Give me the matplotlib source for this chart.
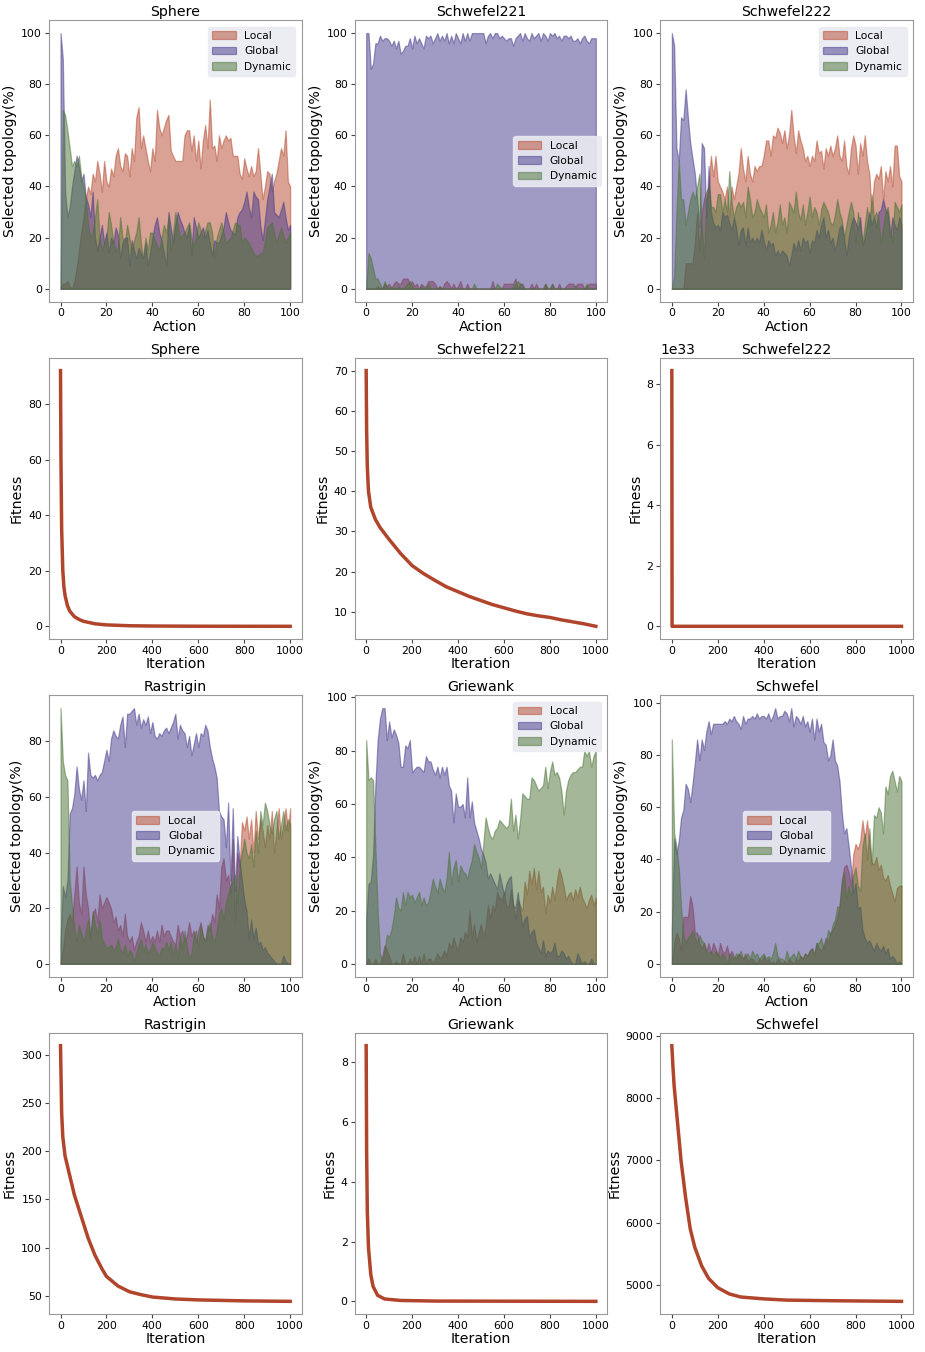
import numpy as np
import matplotlib.pyplot as plt

actions = np.arange(101)

# ---- topology selection (%) per action ----
sphere_local = [0, 2, 2, 3, 1, 0, 3, 8, 15, 22, 28, 35, 40, 37, 45, 42, 50, 45, 38, 50,
                42, 40, 47, 44, 52, 55, 48, 46, 53, 52, 44, 55, 50, 67, 71, 55, 60, 55, 50, 46,
                55, 50, 70, 63, 60, 63, 66, 68, 54, 52, 50, 50, 50, 50, 60, 62, 62, 54, 60, 50,
                58, 47, 58, 64, 55, 74, 55, 56, 50, 60, 55, 58, 60, 58, 59, 52, 52, 52, 45, 43,
                51, 47, 44, 48, 44, 46, 55, 45, 35, 40, 46, 45, 38, 42, 45, 50, 55, 52, 62, 42, 40]
sphere_global = [100, 90, 38, 28, 32, 40, 46, 52, 48, 42, 45, 36, 33, 28, 38, 20, 15, 20, 25, 18,
                 22, 14, 20, 18, 24, 21, 12, 18, 20, 20, 9, 19, 15, 12, 16, 14, 12, 18, 9, 14,
                 20, 25, 28, 22, 19, 14, 9, 30, 24, 18, 25, 30, 27, 25, 22, 20, 25, 13, 28, 24,
                 20, 22, 24, 20, 23, 18, 13, 19, 18, 18, 21, 24, 30, 26, 23, 22, 21, 28, 30, 31,
                 34, 38, 32, 28, 38, 36, 35, 25, 19, 27, 35, 40, 45, 30, 29, 28, 31, 34, 28, 23, 25]
sphere_dynamic = [0, 70, 68, 62, 55, 48, 50, 48, 52, 44, 40, 35, 25, 20, 22, 28, 35, 20, 15, 18,
                  20, 30, 25, 18, 15, 16, 28, 20, 18, 25, 20, 15, 19, 22, 28, 18, 12, 20, 15, 22,
                  22, 19, 17, 15, 20, 25, 22, 28, 15, 22, 30, 25, 20, 21, 22, 24, 26, 20, 16, 21,
                  26, 23, 20, 23, 26, 26, 22, 12, 20, 23, 26, 22, 18, 19, 20, 23, 26, 25, 25, 18,
                  20, 19, 18, 16, 14, 13, 13, 14, 14, 19, 24, 25, 26, 22, 18, 21, 24, 21, 18, 20, 22]

s221_local = [0, 0, 0, 0, 0, 1, 0, 0, 2, 1, 2, 0, 2, 3, 2, 2, 4, 4, 4, 2,
              3, 1, 2, 0, 2, 1, 1, 3, 3, 3, 2, 0, 1, 0, 2, 3, 2, 0, 2, 0,
              1, 3, 0, 0, 2, 0, 0, 0, 0, 0, 0, 0, 0, 0, 0, 3, 0, 0, 0, 0,
              2, 2, 2, 2, 2, 4, 0, 2, 2, 0, 0, 0, 2, 0, 2, 0, 0, 0, 2, 0,
              0, 2, 0, 0, 2, 0, 0, 1, 2, 2, 2, 1, 2, 2, 2, 0, 1, 2, 2, 2, 2]
s221_global = [100, 100, 86, 88, 96, 96, 99, 97, 98, 98, 97, 95, 97, 94, 97, 92, 93, 95, 95, 98,
               94, 99, 96, 98, 96, 94, 99, 98, 99, 96, 98, 100, 97, 99, 97, 100, 96, 99, 96, 100,
               98, 96, 100, 97, 100, 97, 100, 100, 100, 100, 100, 100, 96, 99, 100, 98, 100, 100, 98, 99,
               98, 97, 98, 98, 95, 98, 99, 100, 97, 100, 98, 97, 100, 98, 99, 100, 97, 100, 99, 97,
               100, 99, 100, 98, 99, 97, 99, 99, 98, 99, 97, 97, 98, 96, 98, 99, 97, 96, 98, 98, 98]
s221_dynamic = [0, 14, 12, 8, 4, 4, 2, 0, 3, 1, 0, 1, 0, 0, 1, 0, 0, 1, 2, 3,
                1, 0, 0, 0, 1, 0, 0, 2, 0, 0, 0, 0, 1, 0, 0, 0, 0, 0, 0, 0,
                0, 0, 0, 0, 0, 0, 0, 2, 0, 0, 0, 0, 0, 0, 0, 0, 0, 2, 1, 0,
                0, 0, 0, 0, 1, 2, 3, 2, 1, 0, 0, 0, 0, 0, 0, 0, 0, 0, 2, 0,
                0, 2, 0, 0, 0, 0, 0, 0, 0, 0, 0, 1, 0, 0, 0, 0, 2, 0, 0, 0, 0]

s222_local = [0, 0, 0, 0, 0, 0, 10, 10, 10, 10, 18, 30, 15, 30, 35, 38, 40, 52, 44, 52,
              42, 40, 38, 35, 40, 28, 40, 35, 40, 45, 55, 47, 42, 52, 45, 42, 48, 46, 48, 48,
              52, 58, 58, 52, 60, 59, 63, 61, 57, 62, 55, 60, 70, 60, 53, 62, 58, 55, 50, 52,
              48, 52, 50, 58, 53, 54, 47, 55, 52, 56, 52, 55, 60, 52, 50, 58, 48, 45, 55, 60,
              56, 45, 57, 52, 60, 50, 45, 30, 42, 45, 43, 48, 35, 46, 42, 48, 40, 56, 56, 44, 42]
s222_global = [100, 95, 55, 50, 67, 66, 78, 67, 57, 51, 45, 35, 24, 57, 55, 28, 48, 30, 26, 24,
               25, 23, 30, 28, 29, 26, 23, 28, 24, 17, 23, 24, 17, 24, 18, 20, 18, 20, 18, 23,
               19, 15, 19, 17, 18, 13, 15, 13, 15, 14, 13, 9, 13, 18, 15, 19, 15, 20, 18, 19,
               14, 19, 18, 23, 20, 25, 28, 20, 23, 18, 20, 15, 19, 24, 25, 20, 13, 20, 25, 28,
               26, 23, 28, 17, 20, 25, 30, 25, 28, 24, 30, 31, 35, 31, 30, 20, 28, 25, 23, 28, 25]
s222_dynamic = [0, 5, 30, 50, 35, 35, 25, 30, 35, 38, 35, 40, 45, 25, 12, 35, 40, 32, 32, 30,
                37, 37, 30, 35, 30, 46, 34, 28, 32, 34, 32, 34, 28, 40, 35, 28, 30, 35, 32, 30,
                28, 33, 22, 25, 30, 22, 26, 33, 25, 28, 22, 34, 32, 30, 38, 30, 27, 33, 25, 30,
                36, 28, 32, 30, 25, 31, 34, 32, 30, 26, 25, 29, 35, 30, 27, 20, 25, 30, 34, 30,
                18, 30, 25, 18, 25, 32, 24, 37, 28, 30, 27, 18, 24, 30, 32, 24, 18, 34, 32, 30, 33]

ras_local = [0, 5, 12, 16, 18, 15, 25, 35, 22, 18, 35, 25, 20, 10, 18, 20, 15, 25, 20, 22,
             24, 22, 20, 15, 17, 12, 14, 10, 18, 10, 8, 10, 5, 8, 10, 15, 12, 8, 12, 8,
             10, 8, 12, 8, 14, 10, 12, 12, 10, 8, 7, 14, 10, 12, 8, 10, 15, 10, 12, 8,
             12, 15, 10, 8, 14, 12, 18, 15, 25, 20, 35, 38, 30, 32, 25, 45, 15, 40, 35, 51,
             48, 53, 45, 52, 40, 55, 45, 52, 48, 42, 50, 45, 55, 40, 48, 56, 45, 50, 56, 48, 56]
ras_global = [8, 28, 24, 30, 54, 56, 61, 71, 63, 59, 66, 55, 76, 68, 67, 68, 66, 68, 69, 73,
              77, 73, 81, 84, 82, 81, 86, 89, 78, 90, 90, 91, 92, 86, 90, 85, 88, 86, 89, 83,
              87, 82, 81, 83, 82, 84, 85, 83, 85, 87, 90, 81, 86, 84, 83, 78, 82, 75, 79, 83,
              78, 83, 82, 86, 84, 78, 74, 71, 67, 55, 53, 52, 42, 58, 30, 56, 26, 46, 37, 30,
              23, 19, 9, 16, 9, 13, 7, 8, 5, 6, 4, 3, 2, 1, 0, 0, 0, 3, 1, 0, 0]
ras_dynamic = [92, 73, 68, 66, 30, 21, 13, 8, 14, 11, 8, 12, 16, 9, 19, 14, 11, 16, 9, 7,
               6, 6, 7, 5, 6, 9, 5, 4, 7, 3, 5, 4, 1, 4, 7, 9, 5, 7, 4, 5,
               8, 6, 4, 3, 6, 5, 8, 5, 8, 3, 7, 2, 10, 5, 12, 6, 2, 4, 10, 12,
               6, 14, 10, 8, 12, 15, 10, 8, 12, 18, 20, 16, 22, 25, 28, 30, 32, 22, 35, 40,
               45, 40, 38, 43, 35, 48, 40, 55, 50, 58, 55, 50, 47, 52, 55, 45, 50, 55, 48, 52, 50]

gri_local = [0, 2, 0, 0, 2, 0, 0, 3, 7, 5, 3, 0, 0, 1, 0, 0, 4, 0, 0, 2,
             0, 3, 0, 3, 0, 4, 0, 2, 2, 0, 2, 4, 2, 3, 5, 3, 8, 6, 10, 7,
             5, 10, 8, 12, 10, 20, 10, 15, 8, 12, 15, 10, 14, 22, 17, 22, 20, 27, 25, 24,
             27, 22, 21, 28, 22, 17, 24, 22, 20, 31, 26, 35, 30, 36, 28, 35, 27, 29, 19, 26,
             23, 29, 24, 31, 36, 33, 29, 24, 26, 27, 24, 28, 25, 29, 25, 23, 21, 24, 26, 22, 25]
gri_global = [16, 30, 31, 41, 67, 84, 92, 96, 96, 84, 91, 85, 88, 86, 83, 74, 74, 82, 81, 84,
              72, 73, 74, 74, 73, 72, 78, 76, 76, 73, 71, 74, 70, 74, 71, 74, 67, 65, 53, 64,
              59, 59, 60, 55, 70, 55, 61, 53, 50, 47, 43, 41, 38, 32, 34, 32, 30, 28, 34, 30,
              26, 30, 32, 33, 22, 21, 27, 20, 14, 17, 18, 10, 12, 13, 8, 6, 4, 9, 3, 5,
              4, 5, 8, 3, 3, 5, 4, 2, 3, 1, 0, 0, 4, 2, 0, 1, 0, 0, 2, 0, 0]
gri_dynamic = [84, 69, 70, 69, 44, 20, 4, 1, 5, 11, 10, 13, 18, 25, 21, 20, 27, 22, 27, 25,
               26, 23, 25, 27, 22, 25, 22, 23, 27, 32, 29, 27, 32, 29, 27, 32, 42, 30, 36, 39,
               31, 37, 35, 34, 32, 36, 39, 45, 42, 40, 36, 45, 55, 51, 48, 47, 50, 51, 54, 53,
               52, 51, 52, 62, 50, 56, 47, 54, 64, 63, 62, 62, 70, 69, 67, 65, 66, 67, 74, 66,
               72, 76, 71, 72, 70, 65, 56, 65, 69, 71, 72, 72, 73, 74, 74, 80, 78, 80, 74, 78, 80]

sch_local = [0, 8, 12, 10, 5, 18, 18, 18, 26, 22, 12, 12, 8, 6, 8, 5, 8, 4, 8, 6,
             3, 8, 5, 4, 7, 3, 5, 3, 2, 4, 3, 2, 4, 1, 2, 2, 1, 0, 2, 1,
             3, 1, 2, 0, 1, 0, 2, 1, 0, 1, 0, 2, 1, 0, 2, 1, 3, 2, 4, 3,
             5, 6, 4, 8, 6, 5, 7, 10, 8, 12, 13, 15, 18, 22, 32, 37, 38, 35, 30, 42,
             46, 44, 47, 55, 48, 55, 46, 39, 38, 41, 36, 38, 33, 32, 34, 30, 27, 24, 29, 30, 30]
sch_global = [13, 48, 42, 47, 56, 59, 69, 67, 62, 69, 77, 86, 78, 86, 82, 89, 93, 88, 92, 92,
              92, 92, 92, 93, 92, 94, 93, 95, 93, 92, 90, 95, 92, 94, 94, 95, 94, 96, 94, 95,
              95, 94, 96, 93, 95, 98, 94, 95, 95, 97, 96, 93, 98, 91, 95, 94, 92, 95, 91, 93,
              89, 94, 86, 94, 89, 92, 85, 84, 78, 80, 86, 78, 76, 70, 58, 50, 52, 45, 37, 27,
              31, 21, 22, 13, 10, 8, 9, 7, 5, 8, 6, 5, 7, 4, 6, 2, 3, 2, 0, 1, 0]
sch_dynamic = [86, 50, 45, 37, 22, 11, 8, 10, 11, 13, 10, 8, 11, 9, 8, 5, 4, 5, 3, 5,
               4, 2, 4, 3, 0, 4, 3, 2, 4, 3, 5, 2, 3, 4, 2, 5, 3, 4, 2, 3,
               4, 2, 3, 2, 4, 8, 3, 2, 2, 1, 5, 2, 3, 4, 2, 5, 3, 2, 4, 3,
               5, 6, 3, 8, 8, 10, 6, 8, 13, 11, 15, 17, 22, 22, 30, 35, 25, 30, 26, 34,
               37, 30, 28, 45, 50, 40, 52, 38, 57, 56, 60, 58, 50, 68, 65, 72, 74, 70, 66, 72, 70]

# ---- convergence curves (iteration, best fitness) ----
sphere_iter = [0, 2, 5, 10, 15, 20, 30, 40, 60, 80, 100, 150, 200, 300, 400, 600, 800, 1000]
sphere_fit = [92, 60, 35, 20, 14, 11, 7.5, 5.5, 3.5, 2.5, 1.8, 0.9, 0.5, 0.2, 0.1, 0.03, 0.01, 0.0]
s221_iter = [0, 2, 5, 10, 20, 40, 60, 100, 150, 200, 250, 300, 350, 400, 450, 500,
             550, 600, 650, 700, 750, 800, 850, 900, 950, 1000]
s221_fit = [70, 55, 46, 40, 36, 33, 31, 28, 24.5, 21.5, 19.5, 17.8, 16.2, 15, 13.8, 12.8,
            11.8, 11, 10.2, 9.5, 9, 8.6, 8, 7.5, 7, 6.4]
s222_iter = [0, 1, 2, 5, 10, 50, 100, 500, 1000]
s222_fit = [8.45e33, 2e29, 1e27, 1e25, 1e23, 1e18, 1e15, 1e5, 1e2]
ras_iter = [0, 5, 10, 20, 40, 60, 80, 100, 120, 150, 180, 200, 250, 300, 350, 400, 500, 600, 800, 1000]
ras_fit = [310, 240, 215, 195, 175, 155, 140, 125, 110, 92, 78, 70, 60, 54, 51, 48.5, 46.5, 45.5, 44.5, 44]
gri_iter = [0, 2, 5, 10, 20, 30, 50, 80, 150, 300, 1000]
gri_fit = [8.55, 5, 3, 1.8, 0.9, 0.5, 0.2, 0.08, 0.03, 0.01, 0.0]
sch_iter = [0, 5, 10, 20, 40, 60, 80, 100, 130, 160, 200, 250, 300, 400, 500, 700, 1000]
sch_fit = [8850, 8500, 8200, 7800, 7000, 6400, 5900, 5600, 5300, 5100, 4950, 4850, 4800, 4770, 4750, 4740, 4730]

names_top = ["Sphere", "Schwefel221", "Schwefel222"]
names_bot = ["Rastrigin", "Griewank", "Schwefel"]
topo_top = [(sphere_local, sphere_global, sphere_dynamic),
            (s221_local, s221_global, s221_dynamic),
            (s222_local, s222_global, s222_dynamic)]
topo_bot = [(ras_local, ras_global, ras_dynamic),
            (gri_local, gri_global, gri_dynamic),
            (sch_local, sch_global, sch_dynamic)]
fit_top = [(sphere_iter, sphere_fit), (s221_iter, s221_fit), (s222_iter, s222_fit)]
fit_bot = [(ras_iter, ras_fit), (gri_iter, gri_fit), (sch_iter, sch_fit)]
legend_loc_top = ["upper right", "center right", "upper right"]
legend_loc_bot = ["center", "upper right", "center"]

labels = ["Local", "Global", "Dynamic"]
colors = ["#b5472c", "#43388a", "#4a7335"]
line_color = "#b0452c"

plt.rcParams["font.family"] = "DejaVu Sans"
fig, axes = plt.subplots(4, 3, figsize=(9.25, 13.52), dpi=100)
fig.subplots_adjust(left=0.053, right=0.987, top=0.985, bottom=0.028, wspace=0.21, hspace=0.2)


def draw_topology(ax, series, name, loc):
    for vals, lab, c in zip(series, labels, colors):
        ax.fill_between(actions, vals, facecolor=c, edgecolor=c, alpha=0.5, linewidth=0.9, label=lab)
    ax.set_title(name, fontsize=10.2, pad=3)
    ax.set_xlabel("Action", fontsize=10.2, labelpad=1)
    ax.set_ylabel("Selected topology(%)", fontsize=10.2, labelpad=3)
    ax.legend(loc=loc, fontsize=7.7, facecolor="#eaeaf2", edgecolor="#eaeaf2",
              framealpha=0.9, handlelength=2.2, borderaxespad=0.6)


def draw_fitness(ax, data, name):
    it, fit = data
    ax.plot(it, fit, color=line_color, linewidth=2.5)
    ax.set_title(name, fontsize=10.2, pad=3)
    ax.set_xlabel("Iteration", fontsize=10.2, labelpad=1)
    ax.set_ylabel("Fitness", fontsize=10.2, labelpad=3)


for j in range(3):
    draw_topology(axes[0, j], topo_top[j], names_top[j], legend_loc_top[j])
    draw_fitness(axes[1, j], fit_top[j], names_top[j])
    draw_topology(axes[2, j], topo_bot[j], names_bot[j], legend_loc_bot[j])
    draw_fitness(axes[3, j], fit_bot[j], names_bot[j])

for ax in axes.flat:
    ax.tick_params(labelsize=7.8, length=3, width=0.8, pad=2, color="#444444")
    for sp in ax.spines.values():
        sp.set_color("#999999")
        sp.set_linewidth(0.8)

fig.savefig("out.png")
